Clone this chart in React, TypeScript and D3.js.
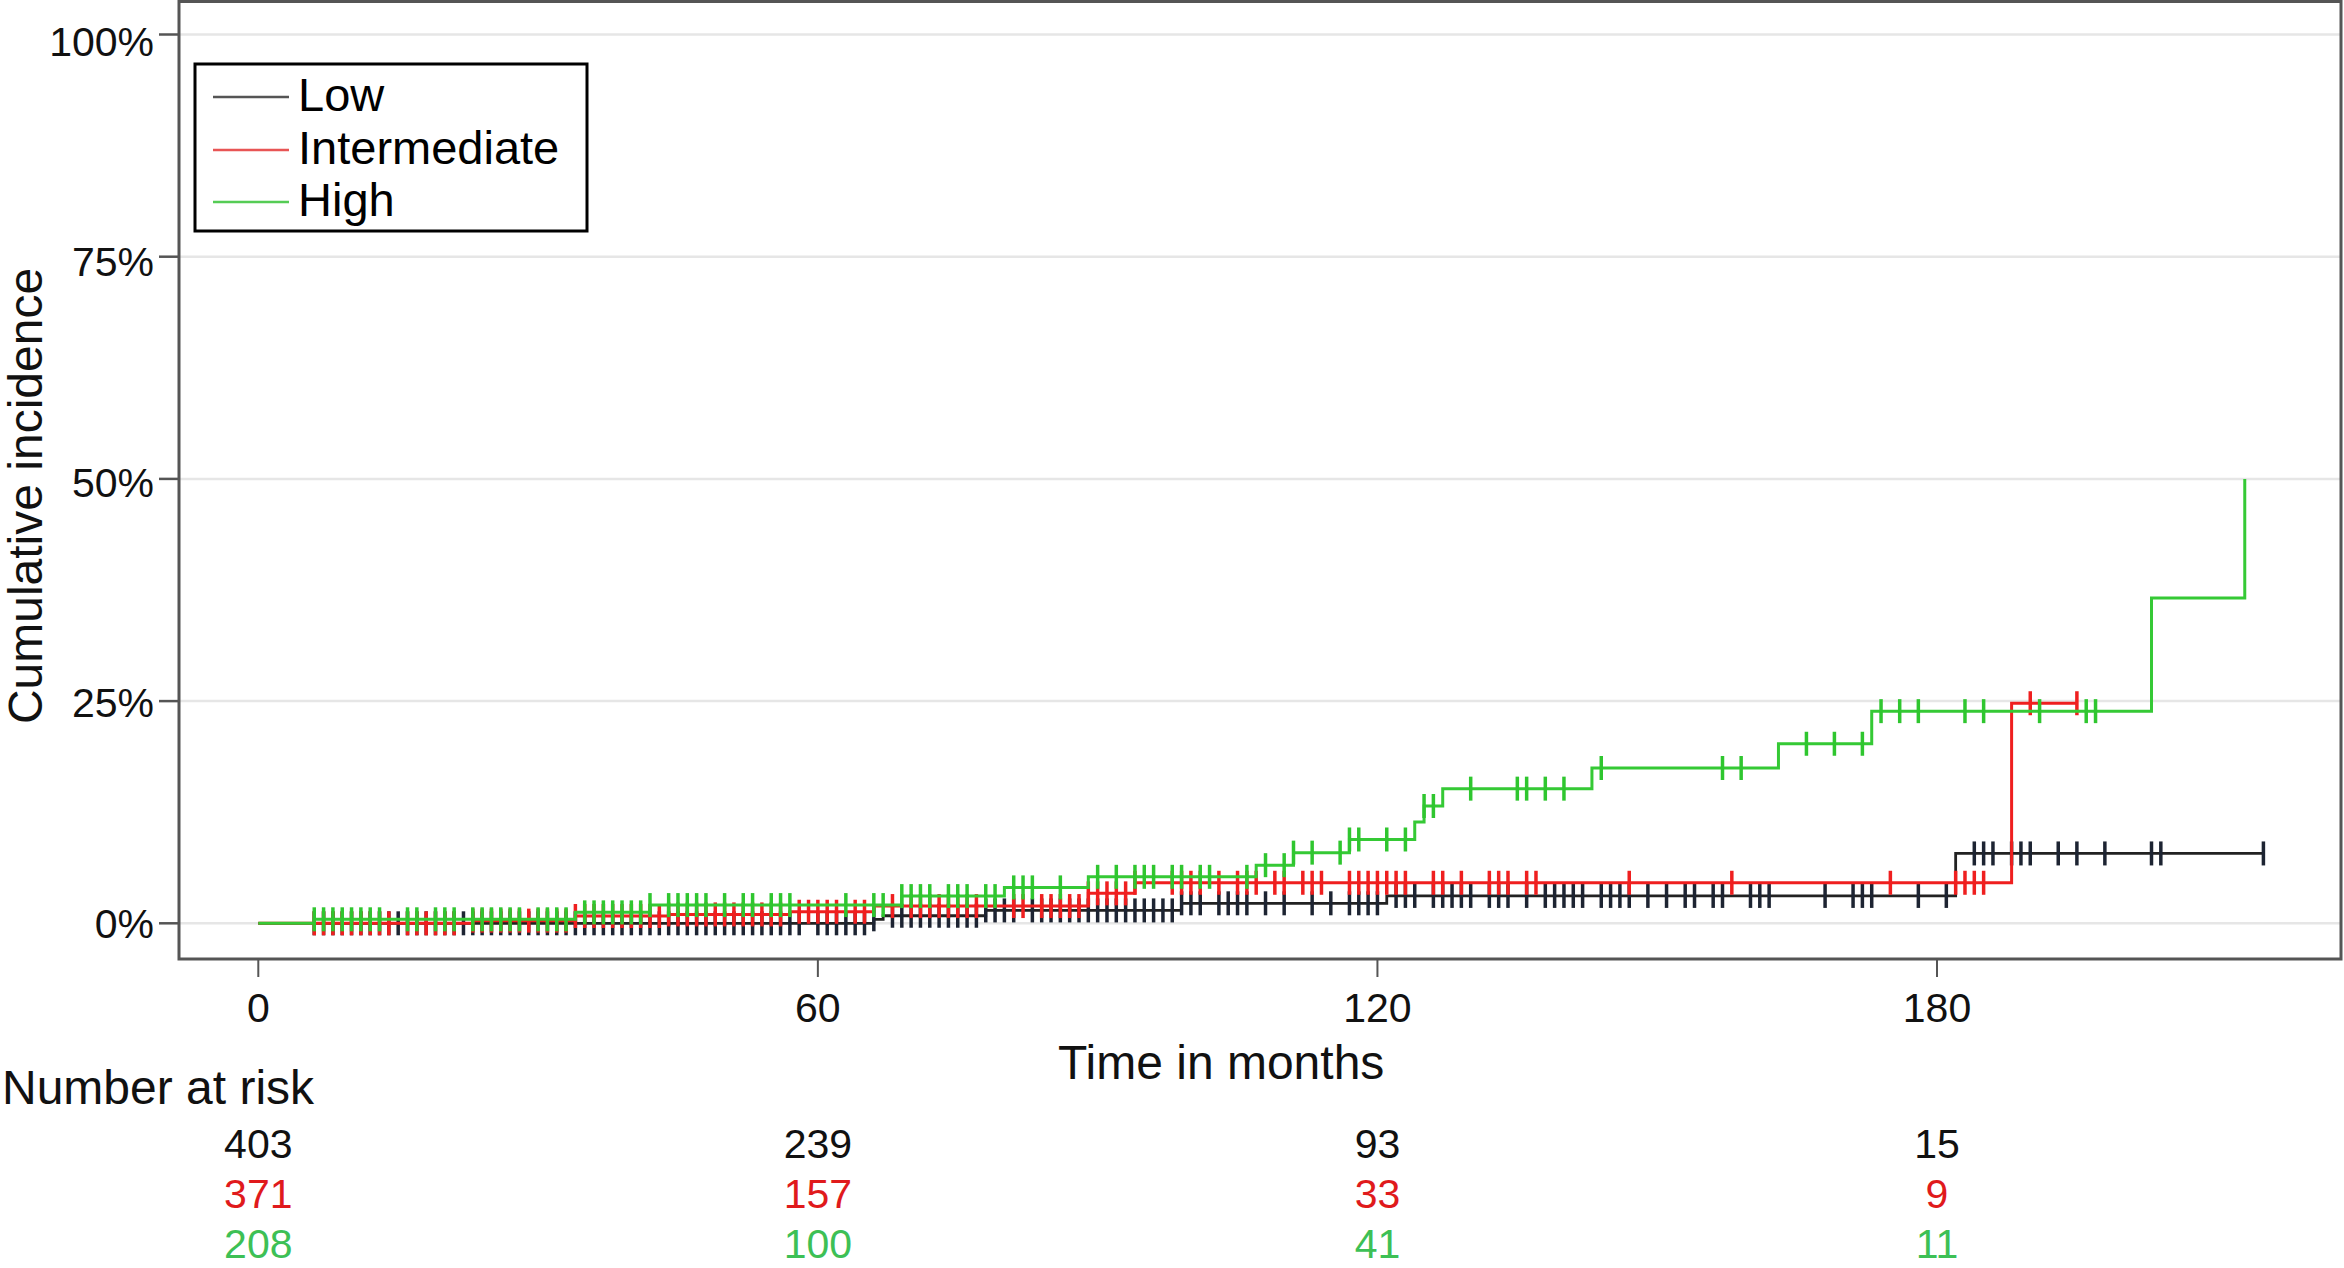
import { useEffect, useRef } from 'react';
import * as d3 from 'd3';

// step times (months) and cumulative incidence (%) after each step
const lowStepTimes = [66, 67, 78, 99, 121, 182];
const lowStepValues = [0.45, 0.85, 1.45, 2.25, 3.08, 7.86];
const lowEnd = 215;
const lowCensor = [6, 7, 8, 9, 10, 11, 12, 13, 14, 15, 16, 17, 18, 19, 20, 21, 22, 23, 24, 25, 26, 27, 28, 29, 30, 31, 32, 33, 34, 35, 36, 37, 38, 39, 40, 41, 42, 43, 44, 45, 46, 47, 48, 49, 50, 51, 52, 53, 54, 55, 56, 57, 58, 60, 61, 62, 63, 64, 65, 66, 68, 69, 70, 71, 72, 73, 74, 75, 76, 77, 78, 79, 80, 81, 83, 84, 85, 86, 87, 88, 89, 90, 91, 92, 93, 94, 95, 96, 97, 98, 99, 100, 101, 103, 104, 105, 106, 108, 110, 113, 115, 117, 118, 119, 120, 122, 123, 124, 126, 127, 128, 129, 130, 132, 133, 134, 136, 138, 139, 140, 141, 142, 144, 145, 146, 147, 149, 151, 153, 154, 156, 157, 160, 161, 162, 168, 171, 172, 173, 178, 181, 184, 185, 186, 188, 189, 190, 193, 195, 198, 203, 204, 215];

const midStepTimes = [23, 34, 44, 57, 66, 89, 94, 188];
const midStepValues = [0.3, 0.82, 1.0, 1.3, 1.94, 3.37, 4.56, 24.76];
const midEnd = 195;
const midCensor = [6, 7, 8, 9, 10, 11, 12, 13, 14, 16, 17, 18, 19, 20, 21, 23, 24, 25, 26, 27, 28, 29, 30, 31, 32, 33, 34, 35, 36, 37, 38, 39, 40, 41, 42, 43, 44, 45, 46, 47, 48, 49, 50, 51, 52, 53, 54, 55, 56, 58, 59, 60, 61, 62, 64, 65, 68, 70, 71, 72, 73, 74, 75, 76, 77, 81, 82, 84, 85, 86, 87, 88, 89, 90, 91, 92, 93, 94, 98, 99, 100, 101, 103, 105, 106, 107, 109, 110, 112, 113, 114, 117, 118, 119, 120, 121, 122, 123, 126, 127, 129, 132, 133, 134, 136, 137, 147, 158, 175, 182, 183, 184, 185, 190, 195];

const highStepTimes = [6, 34, 42, 69, 80, 89, 107, 111, 117, 124, 125, 127, 143, 163, 173, 203, 213];
const highStepValues = [0.45, 1.23, 2.05, 3.06, 4.04, 5.23, 6.54, 7.95, 9.43, 11.4, 13.2, 15.15, 17.47, 20.2, 23.87, 36.6, 50];
const highEnd = 213;
const highCensor = [6, 7, 8, 9, 10, 11, 12, 13, 16, 17, 19, 20, 21, 23, 24, 25, 26, 27, 28, 30, 31, 32, 33, 35, 36, 37, 38, 39, 40, 41, 42, 44, 45, 46, 47, 48, 50, 52, 53, 55, 56, 57, 63, 66, 67, 69, 70, 71, 72, 74, 75, 76, 78, 79, 81, 82, 83, 86, 90, 92, 94, 95, 96, 98, 99, 101, 102, 106, 108, 110, 111, 113, 116, 117, 118, 121, 123, 125, 126, 130, 135, 136, 138, 140, 144, 157, 159, 166, 169, 172, 174, 176, 178, 183, 185, 191, 196, 197];

const groupNames = ['Low', 'Intermediate', 'High'];
const xTicks = [0, 60, 120, 180];
const yTicks = [0, 25, 50, 75, 100];
const riskLow = [403, 239, 93, 15];
const riskMid = [371, 157, 33, 9];
const riskHigh = [208, 100, 41, 11];

const FONT = "'Liberation Sans', Arial, Helvetica, sans-serif";

export default function App() {
  const svgRef = useRef<SVGSVGElement>(null);

  useEffect(() => {
    if (!svgRef.current) return;
    const width = 2344;
    const height = 1268;
    const svg = d3.select(svgRef.current)
      .attr('width', width)
      .attr('height', height)
      .style('font-family', FONT);
    svg.selectAll('*').remove();

    const x = d3.scaleLinear().domain([0, 180]).range([258.3, 1937]);
    const y = d3.scaleLinear().domain([0, 100]).range([923.3, 34.5]);
    const frame = { left: 179, top: 1.5, right: 2341, bottom: 959 };

    svg.append('rect')
      .attr('width', width).attr('height', height).attr('fill', '#fff');

    // gridlines
    svg.selectAll('.grid')
      .data(yTicks)
      .enter().append('line')
      .attr('x1', frame.left).attr('x2', frame.right)
      .attr('y1', d => y(d)).attr('y2', d => y(d))
      .attr('stroke', '#e6e6e6')
      .attr('stroke-width', 2.5);

    // frame
    svg.append('rect')
      .attr('x', frame.left).attr('y', frame.top)
      .attr('width', frame.right - frame.left).attr('height', frame.bottom - frame.top)
      .attr('fill', 'none').attr('stroke', '#555').attr('stroke-width', 3);

    // y ticks
    svg.selectAll('.ytick')
      .data(yTicks)
      .enter().append('line')
      .attr('x1', frame.left - 20).attr('x2', frame.left)
      .attr('y1', d => y(d)).attr('y2', d => y(d))
      .attr('stroke', '#555').attr('stroke-width', 2.5);
    // labels sit slightly lower than their ticks towards the top, as in the source
    svg.selectAll('.ylab')
      .data(yTicks)
      .enter().append('text')
      .attr('x', 154).attr('y', d => y(d) + 14.5 + d * 0.07)
      .attr('text-anchor', 'end')
      .attr('font-size', 41)
      .attr('fill', '#111')
      .text(d => `${d}%`);

    // x ticks
    svg.selectAll('.xtick')
      .data(xTicks)
      .enter().append('line')
      .attr('x1', d => x(d)).attr('x2', d => x(d))
      .attr('y1', frame.bottom).attr('y2', frame.bottom + 18)
      .attr('stroke', '#555').attr('stroke-width', 2);
    svg.selectAll('.xlab')
      .data(xTicks)
      .enter().append('text')
      .attr('x', d => x(d)).attr('y', 1022)
      .attr('text-anchor', 'middle')
      .attr('font-size', 41)
      .attr('fill', '#111')
      .text(d => d);

    // axis titles
    svg.append('text')
      .attr('transform', 'translate(42, 496) rotate(-90)')
      .attr('text-anchor', 'middle')
      .attr('font-size', 48)
      .attr('fill', '#111')
      .text('Cumulative incidence');
    svg.append('text')
      .attr('x', 1058).attr('y', 1079)
      .attr('font-size', 48)
      .attr('fill', '#111')
      .text('Time in months');
    svg.append('text')
      .attr('x', 2).attr('y', 1104)
      .attr('font-size', 48)
      .attr('fill', '#111')
      .text('Number at risk');

    const groups = [
      { times: lowStepTimes, values: lowStepValues, end: lowEnd, censor: lowCensor, line: '#222', tick: '#1d2432', width: 2.8 },
      { times: midStepTimes, values: midStepValues, end: midEnd, censor: midCensor, line: '#ef1f1f', tick: '#ef1f1f', width: 3 },
      { times: highStepTimes, values: highStepValues, end: highEnd, censor: highCensor, line: '#35c935', tick: '#2fc62f', width: 3 },
    ];

    const line = d3.line<[number, number]>()
      .x(d => x(d[0]))
      .y(d => y(d[1]))
      .curve(d3.curveStepAfter);

    groups.forEach(g => {
      const pts: [number, number][] = [[0, 0]];
      g.times.forEach((t, i) => pts.push([t, g.values[i]]));
      const last = pts[pts.length - 1];
      if (g.end > last[0]) pts.push([g.end, last[1]]);

      svg.append('path')
        .attr('d', line(pts))
        .attr('fill', 'none')
        .attr('stroke', g.line)
        .attr('stroke-width', g.width);

      const levelAt = (t: number) => {
        const i = d3.bisectRight(g.times, t);
        return i === 0 ? 0 : g.values[i - 1];
      };

      svg.selectAll(null)
        .data(g.censor)
        .enter().append('line')
        .attr('x1', d => x(d)).attr('x2', d => x(d))
        .attr('y1', d => y(levelAt(d)) - 12)
        .attr('y2', d => y(levelAt(d)) + 12)
        .attr('stroke', g.tick)
        .attr('stroke-width', 3.5);
    });

    // legend
    const legend = svg.append('g');
    legend.append('rect')
      .attr('x', 195).attr('y', 64)
      .attr('width', 392).attr('height', 167)
      .attr('fill', '#fff').attr('stroke', '#000').attr('stroke-width', 3);
    const legendColors = ['#555', '#e85555', '#55cc55'];
    const legendY = [97, 150, 202];
    groupNames.forEach((name, i) => {
      legend.append('line')
        .attr('x1', 213).attr('x2', 289)
        .attr('y1', legendY[i]).attr('y2', legendY[i])
        .attr('stroke', legendColors[i]).attr('stroke-width', 2.5);
      legend.append('text')
        .attr('x', 298).attr('y', legendY[i] + 14)
        .attr('font-size', 47)
        .attr('fill', '#000')
        .text(name);
    });

    // number at risk table
    const rows = [
      { values: riskLow, color: '#111', y: 1158 },
      { values: riskMid, color: '#e01a1c', y: 1208 },
      { values: riskHigh, color: '#3dc055', y: 1258 },
    ];
    rows.forEach(r => {
      svg.selectAll(null)
        .data(r.values)
        .enter().append('text')
        .attr('x', (_, i) => x(xTicks[i]))
        .attr('y', r.y)
        .attr('text-anchor', 'middle')
        .attr('font-size', 41)
        .attr('fill', r.color)
        .text(d => d);
    });
  }, []);

  return (
    <svg ref={svgRef} style={{ position: 'absolute', left: 0, top: 0, display: 'block' }} />
  );
}
